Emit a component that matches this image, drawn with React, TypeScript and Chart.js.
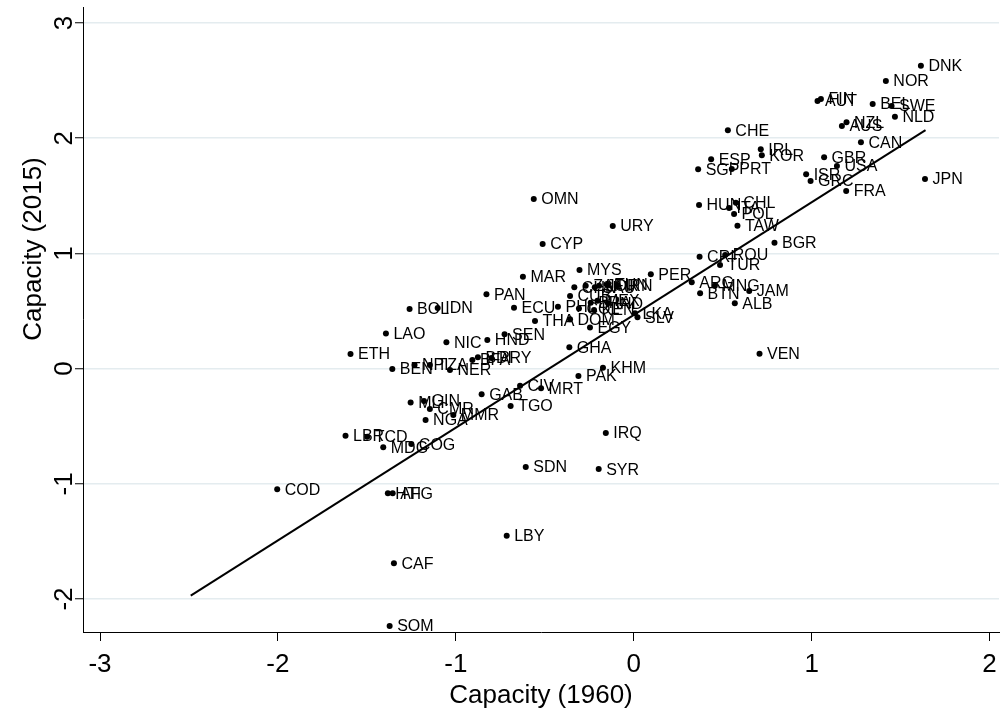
import React, { useEffect, useRef } from "react";
import { Chart, registerables } from "chart.js";

Chart.register(...registerables);

const countries = [
  "DNK", "NOR", "FIN", "AUT", "BEL", "SWE", "NLD", "NZL", "AUS", "CHE",
  "CAN", "IRL", "KOR", "GBR", "ESP", "USA", "SGP", "PRT", "ISR", "JPN",
  "GRC", "FRA", "CHL", "HUN", "ITA", "POL", "TAW", "BGR", "ROU", "CRI",
  "TUR", "OMN", "URY", "CYP", "PER", "MYS", "MAR", "ARG", "MNG", "JAM",
  "BTN", "ALB", "PAN", "IDN", "BOL", "ECU", "PHL", "THA", "DOM", "EGY",
  "LKA", "SLV", "CHN", "ZAF", "SAU", "JOR", "TUN", "IRN", "CUB", "BRA",
  "MEX", "IND", "COL", "KEN", "BEN", "NPL", "TZA", "NER", "ETH", "LAO",
  "NIC", "HND", "SEN", "BFA", "BDI", "PRY", "GHA", "VEN", "KHM", "PAK",
  "CIV", "MRT", "GAB", "TGO", "MLI", "GIN", "CMR", "MMR", "NGA", "LBR",
  "TCD", "MDG", "COG", "IRQ", "SDN", "SYR", "COD", "HTI", "AFG", "LBY",
  "CAF", "SOM",
];

const capacity1960 = [
  1.614, 1.417, 1.052, 1.033, 1.343, 1.449, 1.468, 1.196, 1.170, 0.529,
  1.277, 0.714, 0.720, 1.070, 0.435, 1.142, 0.362, 0.551, 0.969, 1.637,
  0.994, 1.194, 0.574, 0.367, 0.536, 0.564, 0.583, 0.791, 0.514, 0.370,
  0.485, -0.562, -0.118, -0.512, 0.096, -0.305, -0.623, 0.326, 0.456, 0.649,
  0.373, 0.568, -0.828, -1.102, -1.260, -0.673, -0.426, -0.555, -0.358, -0.246,
  0.007, 0.021, -0.334, -0.270, -0.219, -0.195, -0.148, -0.092, -0.358, -0.242,
  -0.204, -0.145, -0.308, -0.223, -1.357, -1.232, -1.146, -1.033, -1.592, -1.393,
  -1.053, -0.823, -0.726, -0.907, -0.876, -0.800, -0.362, 0.707, -0.173, -0.311,
  -0.639, -0.521, -0.855, -0.692, -1.254, -1.179, -1.146, -1.014, -1.170, -1.620,
  -1.498, -1.408, -1.250, -0.157, -0.607, -0.197, -2.004, -1.382, -1.355, -0.714,
  -1.348, -1.372,
];

const capacity2015 = [
  2.629, 2.497, 2.340, 2.323, 2.297, 2.280, 2.187, 2.138, 2.106, 2.069,
  1.964, 1.904, 1.852, 1.834, 1.817, 1.759, 1.730, 1.733, 1.687, 1.646,
  1.628, 1.542, 1.440, 1.420, 1.394, 1.342, 1.240, 1.093, 0.986, 0.971,
  0.899, 1.472, 1.238, 1.082, 0.819, 0.856, 0.798, 0.749, 0.720, 0.674,
  0.654, 0.567, 0.645, 0.526, 0.517, 0.529, 0.537, 0.413, 0.428, 0.358,
  0.480, 0.445, 0.706, 0.720, 0.706, 0.720, 0.726, 0.723, 0.630, 0.572,
  0.589, 0.567, 0.523, 0.509, -0.003, 0.031, 0.031, -0.012, 0.127, 0.306,
  0.228, 0.248, 0.298, 0.075, 0.098, 0.092, 0.185, 0.129, 0.008, -0.064,
  -0.148, -0.171, -0.223, -0.325, -0.293, -0.281, -0.351, -0.403, -0.446, -0.582,
  -0.591, -0.683, -0.655, -0.559, -0.854, -0.872, -1.048, -1.082, -1.082, -1.451,
  -1.690, -2.234,
];

const fitX = [-2.49, 1.64];
const fitY = [-1.97, 2.07];

const xTicks = [-3, -2, -1, 0, 1, 2];
const yTicks = [-2, -1, 0, 1, 2, 3];

const xTitle = "Capacity (1960)";
const yTitle = "Capacity (2015)";

const FONT = '"Liberation Sans", Arial, Helvetica, sans-serif';

const pointLabelPlugin = {
  id: "pointLabelPlugin",
  afterDatasetsDraw(chart: any) {
    const ctx = chart.ctx;
    const meta = chart.getDatasetMeta(0);
    ctx.save();
    ctx.font = `16px ${FONT}`;
    ctx.fillStyle = "#000";
    ctx.textAlign = "left";
    ctx.textBaseline = "middle";
    meta.data.forEach((el: any, i: number) => {
      ctx.fillText(countries[i], el.x + 7.5, el.y + 1);
    });
    ctx.restore();
  },
};

const axisTextPlugin = {
  id: "axisTextPlugin",
  afterDraw(chart: any) {
    const ctx = chart.ctx;
    const xs = chart.scales.x;
    const ys = chart.scales.y;
    const area = chart.chartArea;
    ctx.save();
    ctx.fillStyle = "#000";
    ctx.font = `26px ${FONT}`;
    ctx.textAlign = "center";
    ctx.textBaseline = "alphabetic";
    xTicks.forEach((v) => {
      ctx.fillText(String(v), xs.getPixelForValue(v), 672);
    });
    ctx.fillText(xTitle, (area.left + area.right) / 2, 703);
    yTicks.forEach((v) => {
      ctx.save();
      ctx.translate(72, ys.getPixelForValue(v));
      ctx.rotate(-Math.PI / 2);
      ctx.fillText(String(v), 0, 0);
      ctx.restore();
    });
    ctx.save();
    ctx.translate(41, 249);
    ctx.rotate(-Math.PI / 2);
    ctx.fillText(yTitle, 0, 0);
    ctx.restore();
    ctx.restore();
  },
};

export default function App() {
  const canvasRef = useRef<HTMLCanvasElement | null>(null);

  useEffect(() => {
    document.body.style.margin = "0";
    const canvas = canvasRef.current;
    if (!canvas) return;
    const points = capacity1960.map((x, i) => ({ x, y: capacity2015[i] }));
    const fitLine = fitX.map((x, i) => ({ x, y: fitY[i] }));
    const chart = new Chart(canvas, {
      type: "scatter",
      data: {
        datasets: [
          {
            data: points,
            backgroundColor: "#000",
            borderColor: "#000",
            borderWidth: 0,
            pointRadius: 3,
            pointHoverRadius: 3,
          },
          {
            type: "line",
            data: fitLine,
            borderColor: "#000",
            borderWidth: 2,
            pointRadius: 0,
            fill: false,
            showLine: true,
          } as any,
        ],
      },
      options: {
        responsive: false,
        animation: false,
        devicePixelRatio: 1,
        layout: { padding: { top: 7, left: 0, right: 0, bottom: 0 } },
        plugins: {
          legend: { display: false },
          tooltip: { enabled: false },
        },
        scales: {
          x: {
            type: "linear",
            min: -3.0956,
            max: 2.053,
            afterBuildTicks: (s: any) => {
              s.ticks = xTicks.map((v) => ({ value: v }));
            },
            afterFit: (s: any) => {
              s.height = 89;
            },
            ticks: { display: false },
            grid: {
              drawOnChartArea: false,
              drawTicks: true,
              tickLength: 9,
              tickColor: "#000",
              tickWidth: 1,
            },
            border: { display: true, color: "#000", width: 1 },
          },
          y: {
            type: "linear",
            min: -2.286,
            max: 3.139,
            afterBuildTicks: (s: any) => {
              s.ticks = yTicks.map((v) => ({ value: v }));
            },
            afterFit: (s: any) => {
              s.width = 83;
            },
            ticks: { display: false },
            grid: {
              drawOnChartArea: true,
              color: "#e4ecef",
              lineWidth: 1.5,
              drawTicks: true,
              tickLength: 8,
              tickColor: "#000",
              tickWidth: 1,
            },
            border: { display: true, color: "#000", width: 1 },
          },
        },
      },
      plugins: [pointLabelPlugin, axisTextPlugin],
    });
    return () => {
      chart.destroy();
    };
  }, []);

  return (
    <div style={{ width: 1002, height: 721, background: "#fff" }}>
      <canvas ref={canvasRef} width={1002} height={721} style={{ display: "block" }} />
    </div>
  );
}
